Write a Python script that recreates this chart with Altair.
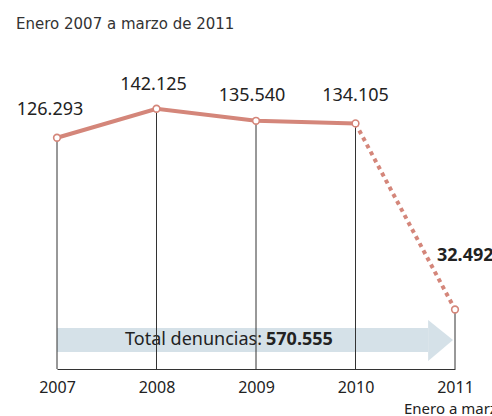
import altair as alt
import pandas as pd

years = [2007, 2008, 2009, 2010, 2011]
values = [126293, 142125, 135540, 134105, 32492]
value_labels = ["126.293", "142.125", "135.540", "134.105", "32.492"]
title_text = "Enero 2007 a marzo de 2011"
total_label = "Total denuncias:"
total_value = "570.555"
last_tick_note = "Enero a marzo"

df = pd.DataFrame({"year": years, "value": values, "label": value_labels,
                   "zero": [0] * len(years)})

SALMON = "#d4867a"
DARK = "#222222"
FONT = "Noto Sans"

XS = alt.Scale(domain=[2007, 2011], nice=False, zero=False)
YS = alt.Scale(domain=[0, 160000], nice=False)
AX = alt.Axis(values=years, format="d", title=None, ticks=False, grid=False,
              domainColor="#333333", domainWidth=1, labelFont=FONT, labelFontSize=16,
              labelColor=DARK, labelPadding=10, labelFlush=False, labelOverlap=False)


def X(field):
    return alt.X(field, scale=XS, axis=AX)


def Y(field):
    return alt.Y(field, scale=YS, axis=None)


x = X("year:Q")
y = Y("value:Q")

base = alt.Chart(df)

# arrow (background)
body = pd.DataFrame({"x": [2007], "x2": [2010.73], "y": [9300], "y2": [22400]})
arrow_body = alt.Chart(body).mark_rect(color="#d5e1e8").encode(
    x=X("x:Q"), x2="x2:Q", y=Y("y:Q"), y2="y2:Q")
head = pd.DataFrame({"x": [2010.73, 2010.98], "y": [26800, 15800], "y2": [4400, 15800]})
arrow_head = alt.Chart(head).mark_area(color="#d5e1e8").encode(
    x=X("x:Q"), y=Y("y:Q"), y2="y2:Q")

tot = pd.DataFrame({"x": [2009], "y": [15800], "a": [total_label], "b": [total_value]})
tot_a = alt.Chart(tot).mark_text(align="right", baseline="middle", font=FONT, fontSize=18,
                                  color=DARK, dx=6).encode(
    x=X("x:Q"), y=Y("y:Q"), text="a:N")
tot_b = alt.Chart(tot).mark_text(align="left", baseline="middle", font=FONT, fontSize=18,
                                  fontWeight="bold", color=DARK, dx=10).encode(
    x=X("x:Q"), y=Y("y:Q"), text="b:N")

note = pd.DataFrame({"x": [2011], "y": [0], "t": [last_tick_note]})
note_t = alt.Chart(note).mark_text(align="center", baseline="middle", font=FONT, fontSize=15,
                                   color=DARK, dy=40).encode(
    x=X("x:Q"), y=Y("y:Q"), text="t:N")

rules = base.mark_rule(color="#333333", strokeWidth=1).encode(x=x, y=y, y2="zero:Q")

solid = base.transform_filter("datum.year <= 2010").mark_line(
    color=SALMON, strokeWidth=4).encode(x=x, y=y)
dotted = base.transform_filter("datum.year >= 2010").mark_line(
    color=SALMON, strokeWidth=4, strokeDash=[4, 4]).encode(x=x, y=y)
points = base.mark_point(shape="circle", filled=True, fill="white", stroke=SALMON,
                         strokeWidth=1.6, size=45, opacity=1).encode(x=x, y=y)

offsets = {2007: (-7, -28, "center", "normal"),
           2008: (-3, -24, "center", "normal"),
           2009: (-4, -25, "center", "normal"),
           2010: (0, -27, "center", "normal"),
           2011: (-18, -53, "left", "bold")}
labels = []
for yr, (dx, dy, al, fw) in offsets.items():
    labels.append(base.transform_filter(f"datum.year == {yr}").mark_text(
        dx=dx, dy=dy, align=al, baseline="middle", font=FONT, fontSize=18,
        fontWeight=fw, color=DARK).encode(x=x, y=y, text="label:N"))

chart = alt.layer(arrow_body, arrow_head, tot_a, tot_b, note_t, rules, solid, dotted, points,
                  *labels).properties(
    width=398, height=293,
    title=alt.TitleParams(title_text, anchor="start", frame="group", dx=-41, offset=44,
                          font="DejaVu Sans", fontSize=15, fontWeight="normal", color="#333333"),
    autosize=alt.AutoSizeParams(type="none"),
    padding={"left": 57, "top": 76, "right": 37, "bottom": 47},
).configure_view(stroke=None)

chart.save("out.html", embed_options={"renderer": "svg", "actions": False})
